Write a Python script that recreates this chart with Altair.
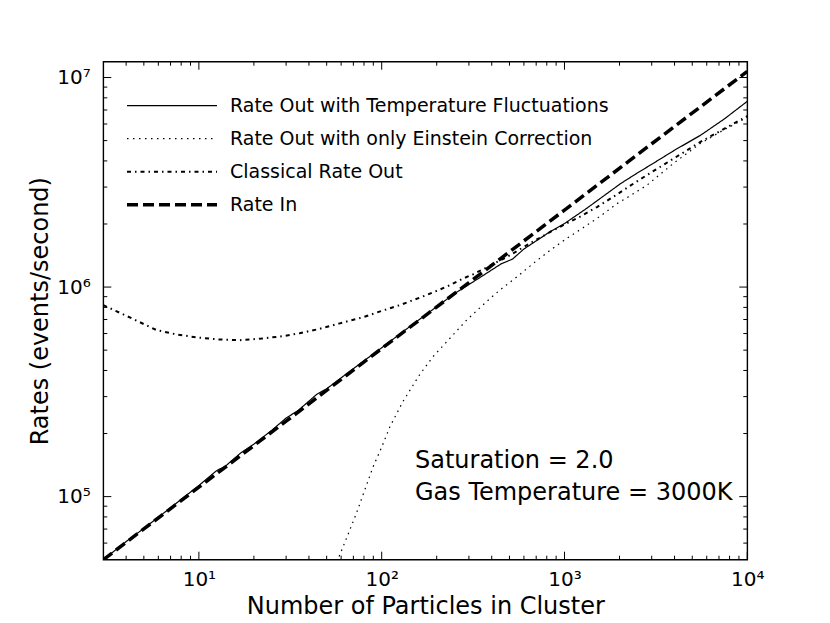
import altair as alt
import pandas as pd

SERIES = [
    "Rate Out with Temperature Fluctuations",
    "Rate Out with only Einstein Correction",
    "Classical Rate Out",
    "Rate In",
]

# Rate In (thick dashed)
n_in = [3, 10, 30, 100, 300, 1000, 3000, 10000]
rate_in = [5.0e4, 1.11e5, 2.29e5, 5.09e5, 1.05e6, 2.33e6, 4.83e6, 1.07e7]

# Rate out with temperature fluctuations (solid)
n_temp = [3, 4, 5, 7, 10, 12.5, 14, 17, 20, 25, 30, 35, 44, 50, 70, 100, 150,
          250, 350, 450, 520, 600, 836, 1000, 1300, 1570, 2030, 2500, 2950,
          4000, 5545, 7500, 10000]
rate_temp = [5.0e4, 6.1e4, 7.05e4, 8.85e4, 1.13e5, 1.33e5, 1.40e5, 1.62e5,
             1.78e5, 2.07e5, 2.37e5, 2.58e5, 3.07e5, 3.27e5, 4.08e5, 5.13e5,
             6.7e5, 9.3e5, 1.12e6, 1.29e6, 1.36e6, 1.52e6, 1.84e6, 2.01e6,
             2.35e6, 2.65e6, 3.12e6, 3.5e6, 3.82e6, 4.5e6, 5.3e6, 6.35e6, 7.7e6]

# Rate out with only Einstein correction (dotted)
n_ein = [58.5, 65, 72.8, 80, 89.8, 100, 111, 131, 160, 191, 240, 292, 392, 444,
         550, 677, 836, 1031, 1300, 1570, 1937, 2400, 2820, 3955, 5545, 7500,
         10000]
rate_ein = [5.18e4, 6.5e4, 8.34e4, 1.05e5, 1.39e5, 1.72e5, 2.16e5, 2.85e5,
            3.78e5, 4.66e5, 5.78e5, 6.97e5, 8.83e5, 9.69e5, 1.12e6, 1.30e6,
            1.50e6, 1.71e6, 1.95e6, 2.18e6, 2.5e6, 2.8e6, 3.06e6, 3.9e6,
            4.85e6, 5.65e6, 6.45e6]

# Classical rate out (dash-dot)
n_cls = [3, 4, 5.85, 7.5, 9.7, 13, 16.7, 22, 28.8, 35.6, 45, 59, 80, 100,
         125.7, 176, 230, 280, 316, 483, 650, 871, 1219, 1507, 1853, 2388,
         2820, 4000, 5545, 7500, 10000]
rate_cls = [8.2e5, 7.3e5, 6.24e5, 5.95e5, 5.75e5, 5.62e5, 5.58e5, 5.68e5,
            5.83e5, 6.02e5, 6.3e5, 6.71e5, 7.2e5, 7.7e5, 8.2e5, 9.16e5,
            1.01e6, 1.10e6, 1.15e6, 1.39e6, 1.62e6, 1.87e6, 2.17e6, 2.41e6,
            2.70e6, 3.12e6, 3.42e6, 4.13e6, 4.93e6, 5.7e6, 6.55e6]

x_major = [10, 100, 1000, 10000]
x_minor = [m * 10 ** e for e in range(0, 4) for m in range(2, 10) if m * 10 ** e > 3]
y_major = [1e5, 1e6, 1e7]
y_minor = [m * 10 ** e for e in range(4, 7) for m in range(2, 10) if m * 10 ** e > 5e4]

note_lines = ["Saturation = 2.0", "Gas Temperature = 3000K"]

frames = []
for name, ns, rs in [
    (SERIES[0], n_temp, rate_temp),
    (SERIES[1], n_ein, rate_ein),
    (SERIES[2], n_cls, rate_cls),
    (SERIES[3], n_in, rate_in),
]:
    frames.append(pd.DataFrame({"n": ns, "rate": rs, "series": name}))
df = pd.concat(frames, ignore_index=True)

W, H = 644, 498
FONT = "DejaVu Sans"

x_scale = alt.Scale(type="log", domain=[3, 10000], nice=False)
y_scale = alt.Scale(type="log", domain=[5e4, 1.19e7], nice=False)

x_label = ("datum.value == 10 ? '10\u00b9' : datum.value == 100 ? '10\u00b2' : "
           "datum.value == 1000 ? '10\u00b3' : '10\u2074'")
y_label = ("datum.value == 100000 ? '10\u2075' : datum.value == 1000000 ? '10\u2076' : '10\u2077'")

x_axis = alt.Axis(values=x_major, labelExpr=x_label, labelFlush=False,
                  labelOverlap=False, title="Number of Particles in Cluster",
                  titlePadding=5, labelPadding=10)
y_axis = alt.Axis(values=y_major, labelExpr=y_label, labelOverlap=False,
                  title="Rates (events/second)", titlePadding=4, labelPadding=13)

leg = alt.Legend(
    title=None, orient="none", legendX=21.7, legendY=34,
    symbolType="stroke", symbolSize=8100, clipHeight=20,
    symbolStrokeColor="black", labelFont=FONT, labelFontSize=19,
    labelColor="black", labelOffset=11, rowPadding=13, labelLimit=600,
    padding=0,
)

lines = alt.Chart(df).mark_line(clip=True, color="black", strokeCap="butt").encode(
    x=alt.X("n:Q", scale=x_scale, axis=x_axis),
    y=alt.Y("rate:Q", scale=y_scale, axis=y_axis),
    strokeDash=alt.StrokeDash(
        "series:N",
        scale=alt.Scale(domain=SERIES, range=[[1, 0], [1.5, 4.5], [4, 4, 1.5, 4], [11, 5]]),
        legend=leg),
    strokeWidth=alt.StrokeWidth(
        "series:N",
        scale=alt.Scale(type="ordinal", domain=SERIES, range=[1.2, 1.2, 2.0, 3.5]),
        legend=leg),
)

note = alt.Chart(alt.Data(values=[{}])).mark_text(
    text=note_lines, align="left", baseline="alphabetic", fontSize=24,
    font=FONT, lineHeight=31.7, color="black",
).encode(x=alt.value(311.7), y=alt.value(406.6))


def xticks(vals, length, top):
    d = pd.DataFrame({"n": vals})
    if top:
        yy, yy2 = alt.value(0), alt.value(length)
    else:
        yy, yy2 = alt.value(H), alt.value(H - length)
    return alt.Chart(d).mark_rule(color="black", strokeWidth=1).encode(
        x=alt.X("n:Q", scale=x_scale, axis=x_axis), y=yy, y2=yy2)


def yticks(vals, length, right):
    d = pd.DataFrame({"rate": vals})
    if right:
        xx, xx2 = alt.value(W), alt.value(W - length)
    else:
        xx, xx2 = alt.value(0), alt.value(length)
    return alt.Chart(d).mark_rule(color="black", strokeWidth=1).encode(
        y=alt.Y("rate:Q", scale=y_scale, axis=y_axis), x=xx, x2=xx2)


ticks = [
    xticks(x_major, 8, False), xticks(x_major, 8, True),
    xticks(x_minor, 4, False), xticks(x_minor, 4, True),
    yticks(y_major, 8, False), yticks(y_major, 8, True),
    yticks(y_minor, 4, False), yticks(y_minor, 4, True),
]

chart = alt.layer(lines, note, *ticks).properties(
    width=W, height=H,
    autosize=alt.AutoSizeParams(type="none"),
    padding={"left": 95.3, "top": 53.7, "right": 30, "bottom": 61},
).configure_view(
    stroke="black", strokeWidth=1.4
).configure_axis(
    grid=False, domain=False, ticks=False,
    labelFont=FONT, labelFontSize=20, labelColor="black",
    titleFont=FONT, titleFontSize=24, titleFontWeight="normal", titleColor="black",
)

chart.save("out.html", embed_options={"renderer": "svg", "actions": False})
